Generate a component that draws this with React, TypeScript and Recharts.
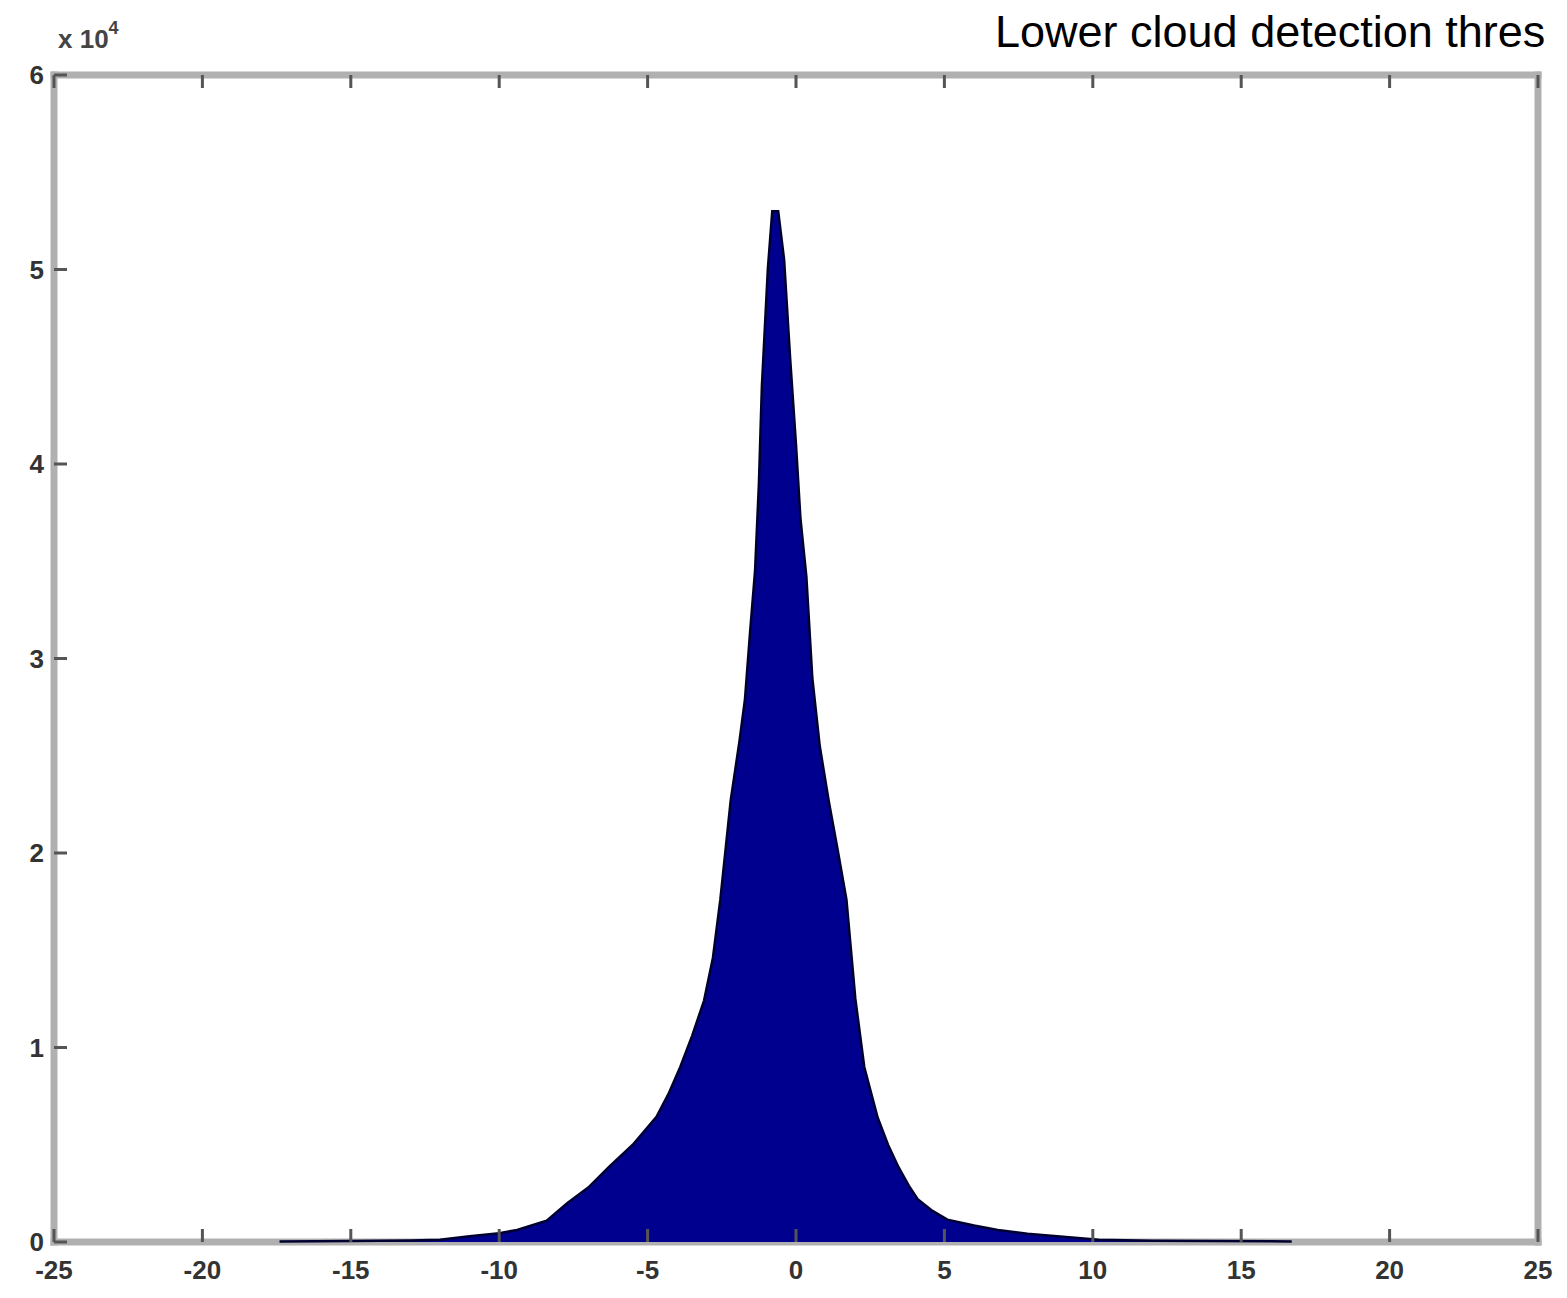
import { Area, AreaChart, XAxis, YAxis } from "recharts";

// histogram envelope (bin centre -> count)
const binCenters = [
  -17.4, -15, -13, -12, -11, -10, -9.4, -8.4, -7.7, -7, -6.3, -5.5, -4.7, -4.3, -3.9, -3.5, -3.1, -2.8,
  -2.55, -2.2, -1.9, -1.72, -1.55, -1.38, -1.25, -1.15, -0.95, -0.8, -0.6, -0.4, -0.2, 0.0, 0.15, 0.35, 0.55,
  0.8, 1.1, 1.4, 1.7, 2.0, 2.3, 2.75, 3.1, 3.45, 3.8, 4.1, 4.6, 5.1, 6, 6.8, 7.8, 8.8, 10.2, 12, 14, 16.7,
];
const counts = [
  30, 50, 80, 120, 300, 450, 620, 1100, 2000, 2800, 3860, 5000, 6440, 7600, 9000, 10600, 12400, 14600,
  17600, 22700, 25800, 27900, 31300, 34500, 39000, 44000, 50000, 53000, 53000, 50500, 45500, 41000, 37200, 34200, 29000,
  25500, 22700, 20200, 17600, 12500, 9000, 6400, 5000, 3860, 2900, 2200, 1600, 1150, 850, 620, 430, 300, 120, 70, 50, 30,
];

const xTicks = [-25, -20, -15, -10, -5, 0, 5, 10, 15, 20, 25];
const yTicks = [0, 10000, 20000, 30000, 40000, 50000, 60000];
const titleText = "Lower cloud detection thres";

const data = binCenters.map((x, i) => ({ x, count: counts[i] }));

const axisStyle = { stroke: "#b0b0b0", strokeWidth: 7, strokeLinecap: "square" as const };
const tickFont = {
  fontFamily: "'Liberation Sans Narrow', 'Liberation Sans', Arial, sans-serif",
  fontSize: 26,
  fontWeight: 700,
  fill: "#333",
};

const LeftTick = ({ x, y, payload }: any) => (
  <g>
    <line x1={x} x2={x + 13} y1={y} y2={y} stroke="#555" strokeWidth={3} />
    <text x={x - 10} y={y} textAnchor="end" dominantBaseline="central" {...tickFont}>
      {payload.value / 10000}
    </text>
  </g>
);

const RightTick = ({ x, y }: any) => (
  <line x1={x - 13} x2={x} y1={y} y2={y} stroke="#555" strokeWidth={3} />
);

const BottomTick = ({ x, y, payload }: any) => (
  <g>
    <line x1={x} x2={x} y1={y - 13} y2={y} stroke="#555" strokeWidth={3} />
    <text x={x} y={y + 28} textAnchor="middle" dominantBaseline="central" {...tickFont}>
      {payload.value}
    </text>
  </g>
);

const TopTick = ({ x, y }: any) => (
  <line x1={x} x2={x} y1={y} y2={y + 13} stroke="#555" strokeWidth={3} />
);

export default function App() {
  return (
    <div
      style={{
        position: "absolute",
        left: 0,
        top: 0,
        width: 1567,
        height: 1298,
        overflow: "hidden",
        background: "#fff",
      }}
    >
      <AreaChart width={1567} height={1298} data={data} margin={{ top: 74, right: 28, bottom: 55, left: 53 }}>
        <XAxis
          dataKey="x"
          type="number"
          domain={[-25, 25]}
          ticks={xTicks}
          height={1}
          tickSize={0}
          tickMargin={0}
          axisLine={axisStyle}
          tick={<BottomTick />}
          interval={0}
        />
        <XAxis
          xAxisId="top"
          orientation="top"
          dataKey="x"
          type="number"
          domain={[-25, 25]}
          ticks={xTicks}
          height={1}
          tickSize={0}
          tickMargin={0}
          axisLine={axisStyle}
          tick={<TopTick />}
          interval={0}
        />
        <YAxis
          type="number"
          domain={[0, 60000]}
          ticks={yTicks}
          width={1}
          tickSize={0}
          tickMargin={0}
          axisLine={axisStyle}
          tick={<LeftTick />}
          interval={0}
        />
        <YAxis
          yAxisId="right"
          orientation="right"
          type="number"
          domain={[0, 60000]}
          ticks={yTicks}
          width={1}
          tickSize={0}
          tickMargin={0}
          axisLine={axisStyle}
          tick={<RightTick />}
          interval={0}
        />
        <Area
          type="linear"
          dataKey="count"
          stroke="#000030"
          strokeWidth={2.5}
          fill="#00008f"
          fillOpacity={1}
          isAnimationActive={false}
          zIndex={1000}
        />
      </AreaChart>
      <div
        style={{
          position: "absolute",
          left: 58,
          top: 22,
          fontFamily: "'Liberation Sans', Arial, sans-serif",
          fontSize: 26,
          fontWeight: 700,
          color: "#444",
          whiteSpace: "nowrap",
        }}
      >
        x 10<sup style={{ fontSize: 18, position: "relative", top: -4 }}>4</sup>
      </div>
      <div
        style={{
          position: "absolute",
          left: 995,
          top: 6,
          fontFamily: "'Liberation Sans', Arial, sans-serif",
          fontSize: 45,
          color: "#000",
          whiteSpace: "nowrap",
        }}
      >
        {titleText}
      </div>
    </div>
  );
}
